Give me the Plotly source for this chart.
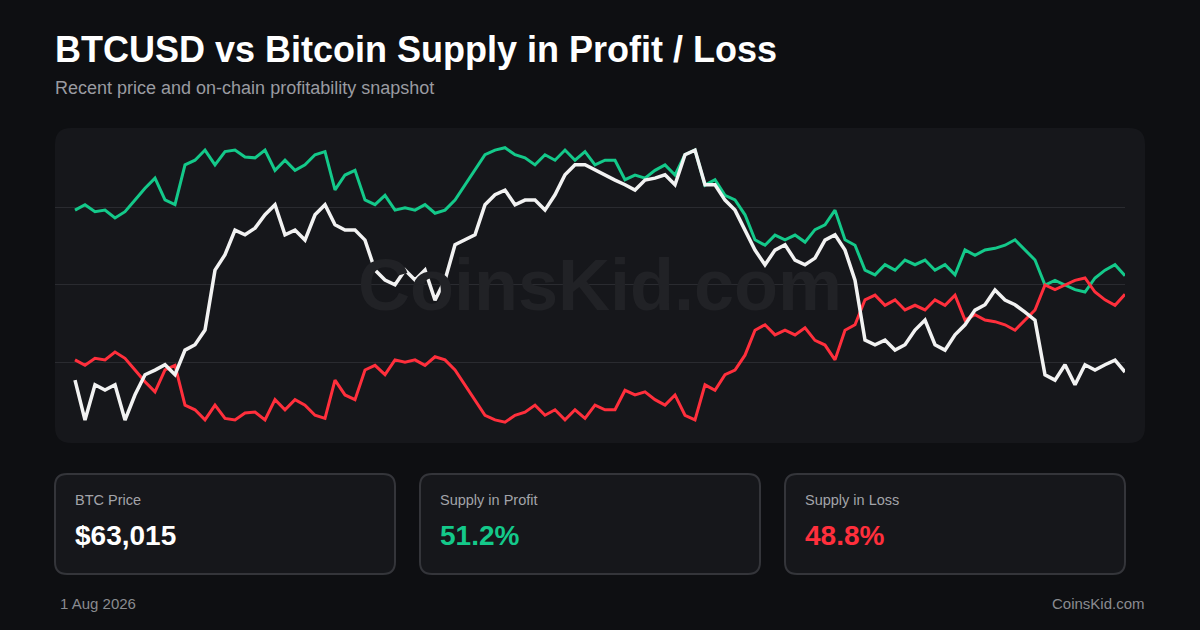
import pandas as pd
import plotly.graph_objects as go

# Values (roughly every third day)
profit_pct = [
    59.6, 60.3, 59.4, 59.6, 58.6, 59.4, 60.9, 62.4, 63.7, 60.9,
    60.3, 65.4, 66.0, 67.3, 65.4, 67.1, 67.3, 66.4, 66.3, 67.3,
    64.7, 66.0, 64.7, 65.4, 66.7, 67.1, 62.2, 64.1, 64.7, 60.9,
    60.3, 61.5, 59.6, 59.9, 59.6, 60.3, 59.2, 59.6, 60.9, 62.8,
    64.7, 66.7, 67.3, 67.6, 66.7, 66.3, 65.4, 66.7, 66.0, 67.3,
    66.0, 67.1, 65.4, 66.0, 66.0, 63.5, 64.1, 63.7, 64.7, 65.4,
    64.1, 66.7, 67.3, 62.8, 63.5, 61.5, 60.9, 59.0, 55.8, 55.1,
    56.4, 55.8, 56.4, 55.5, 57.1, 57.7, 59.6, 55.8, 55.1, 51.9,
    51.3, 52.6, 51.9, 53.2, 52.6, 53.2, 51.9, 52.6, 51.3, 54.5,
    53.8, 54.5, 54.7, 55.1, 55.8, 54.5, 53.2, 50.0, 50.6, 50.0,
    49.4, 49.1, 50.9, 51.9, 52.6, 51.2,
]
loss_pct = [round(100 - p, 1) for p in profit_pct]
btc_price = [
    61800, 55800, 61100, 60300, 61100, 55800, 59600, 62600, 63300, 64100,
    62600, 66300, 67100, 69300, 78300, 80600, 84300, 83600, 84600, 86600,
    88100, 83600, 84300, 82800, 86600, 88100, 85100, 84300, 84300, 82800,
    78300, 76800, 76100, 78300, 76800, 78300, 73800, 76800, 82100, 82800,
    83600, 88100, 89600, 90300, 88100, 88800, 88800, 87300, 89600, 92600,
    94100, 94100, 93300, 92600, 91800, 91100, 90300, 91800, 92100, 92600,
    91100, 95600, 96300, 91100, 91100, 88800, 87300, 84300, 81300, 79100,
    81300, 82100, 79800, 79100, 80100, 82800, 83600, 81300, 76800, 67800,
    67100, 67800, 66300, 67100, 69300, 70800, 67100, 66300, 68600, 70100,
    72300, 73100, 75300, 73800, 73100, 72000, 70800, 62600, 61800, 64100,
    61100, 64100, 63300, 64100, 64800, 63015,
]
dates = pd.date_range(end="2026-08-01", periods=len(btc_price), freq="3D")

GREEN = "#14c98a"
RED = "#ff2f3c"
BG = "#0e0f12"
CARD = "#16171b"


def rounded(x0, y0, x1, y1, r):
    # pixel coords, y down -> paper coords
    W, H = 1200, 630
    px = lambda x: x / W
    py = lambda y: 1 - y / H
    return (f"M {px(x0+r)},{py(y0)} L {px(x1-r)},{py(y0)} Q {px(x1)},{py(y0)} {px(x1)},{py(y0+r)} "
            f"L {px(x1)},{py(y1-r)} Q {px(x1)},{py(y1)} {px(x1-r)},{py(y1)} "
            f"L {px(x0+r)},{py(y1)} Q {px(x0)},{py(y1)} {px(x0)},{py(y1-r)} "
            f"L {px(x0)},{py(y0+r)} Q {px(x0)},{py(y0)} {px(x0+r)},{py(y0)} Z")


def note(text, x, y, size, color, anchor="left"):
    return dict(text=text, x=x / 1200, y=1 - y / 630, xref="paper", yref="paper", showarrow=False,
                xanchor=anchor, yanchor="middle", font=dict(family="Liberation Sans", size=size, color=color))


fig = go.Figure()
fig.add_trace(go.Scatter(x=dates, y=profit_pct, mode="lines", line=dict(color=GREEN, width=3), name="Supply in Profit"))
fig.add_trace(go.Scatter(x=dates, y=loss_pct, mode="lines", line=dict(color=RED, width=3), name="Supply in Loss"))
fig.add_trace(go.Scatter(x=dates, y=btc_price, mode="lines", line=dict(color="#f2f2f2", width=3.5),
                         name="BTC Price", yaxis="y2"))

step = dates[1] - dates[0]
shapes = [
    dict(type="path", xref="paper", yref="paper", path=rounded(55, 128, 1145, 443, 16),
         fillcolor=CARD, line=dict(width=0), layer="below"),
]
cards = [(55, "BTC Price", "$63,015", "#ffffff"),
         (420, "Supply in Profit", "51.2%", GREEN),
         (785, "Supply in Loss", "48.8%", RED)]
annotations = [
    note("<b>CoinsKid.com</b>", 600, 285, 72, "#212226", "center"),
    note("<b>BTCUSD vs Bitcoin Supply in Profit / Loss</b>", 53, 50, 36, "#ffffff"),
    note("Recent price and on-chain profitability snapshot", 53, 88, 18, "#9a9ba1"),
    note("1 Aug 2026", 58, 603, 15, "#8a8b90"),
    note("CoinsKid.com", 1147, 603, 15, "#8a8b90", "right"),
]
for x0, label, value, color in cards:
    shapes.append(dict(type="path", xref="paper", yref="paper", path=rounded(x0, 474, x0 + 340, 574, 12),
                       fillcolor=CARD, line=dict(color="#34353a", width=2), layer="below"))
    annotations.append(note(label, x0 + 18, 500, 14.5, "#a3a4a9"))
    annotations.append(note(f"<b>{value}</b>", x0 + 18, 535, 28, color))

fig.update_layout(
    width=1200, height=630, margin=dict(l=0, r=0, t=0, b=0),
    paper_bgcolor=BG, plot_bgcolor="rgba(0,0,0,0)", showlegend=False,
    shapes=shapes, annotations=annotations,
    xaxis=dict(domain=[55 / 1200, 1125 / 1200], range=[dates[0] - 2 * step, dates[-1]],
               visible=False, showgrid=False),
    yaxis=dict(domain=[1 - 443 / 630, 1 - 128 / 630], range=[29.74, 70.13], tickvals=[40, 50, 60],
               showticklabels=False, gridcolor="#2a2b30", gridwidth=1, zeroline=False, showline=False),
    yaxis2=dict(overlaying="y", range=[52365, 99615], visible=False, showgrid=False),
)

fig.write_html("out.html", config={"displayModeBar": False},
               post_script="document.body.style.margin='0';document.body.style.background='#0e0f12';")
